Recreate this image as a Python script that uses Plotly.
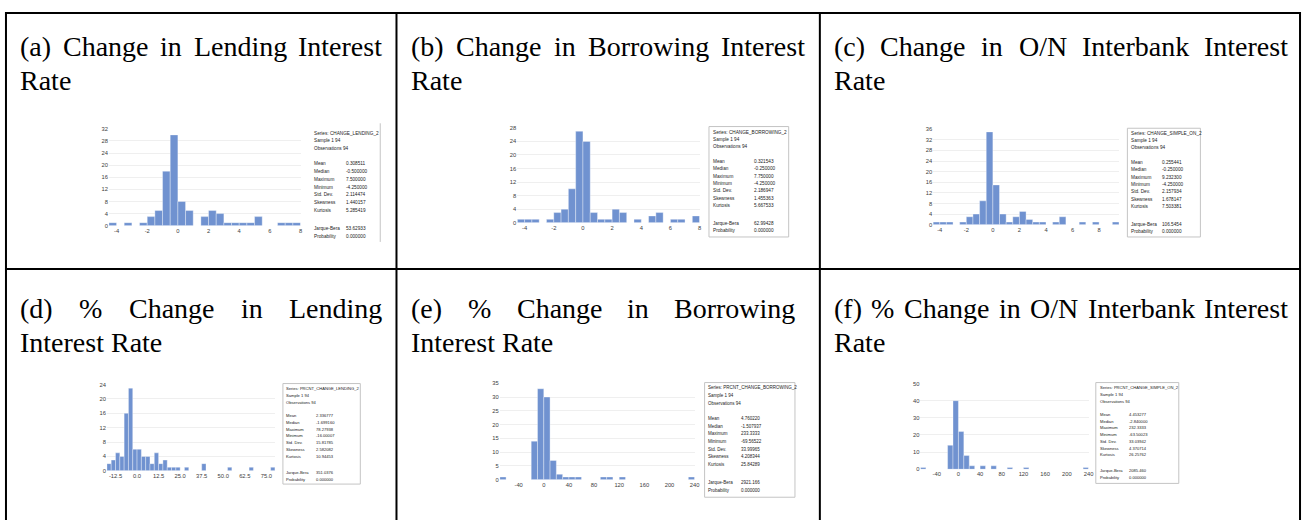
import plotly.graph_objects as go

W, H = 1310, 520

# ---------------- data ----------------
titles = [
    ["(a) Change in Lending Interest", "Rate"],
    ["(b) Change in Borrowing Interest", "Rate"],
    ["(c) Change in O/N Interbank Interest", "Rate"],
    ["(d) % Change in Lending", "Interest Rate"],
    ["(e) % Change in Borrowing", "Interest Rate"],
    ["(f) % Change in O/N Interbank Interest", "Rate"],
]

bin_start_a, bin_width_a = -4.5, 0.5
counts_a = [1, 0, 1, 0, 1, 3, 5, 18, 30, 8, 5, 0, 3, 5, 4, 1, 1, 1, 1, 3, 0, 0, 1, 1, 1]

bin_start_b, bin_width_b = -4.5, 0.5
counts_b = [1, 1, 1, 0, 1, 3, 4, 10, 27, 24, 3, 1, 1, 4, 3, 0, 1, 0, 2, 3, 0, 1, 1, 0, 2]

bin_start_c, bin_width_c = -4.5, 0.5
counts_c = [1, 1, 1, 0, 1, 3, 4, 9, 35, 15, 4, 1, 3, 5, 2, 1, 1, 0, 1, 3, 0, 0, 1, 0, 1, 0, 0, 1]

bin_start_d, bin_width_d = -17.5, 2.5
counts_d = [2, 3, 5, 4, 16, 23, 6, 6, 4, 4, 2, 5, 2, 3, 1, 1, 1, 0, 1, 0, 0, 0, 2, 0, 0,
            0, 0, 0, 1, 0, 0, 0, 0, 1, 0, 0, 0, 0, 1]

bin_start_e, bin_width_e = -70, 10
counts_e = [1, 0, 0, 0, 0, 14, 33, 30, 7, 2, 1, 1, 1, 0, 0, 0, 1, 1, 0, 1,
            0, 0, 0, 0, 0, 0, 0, 0, 0, 0, 1]

bin_start_f, bin_width_f = -70, 10
counts_f = [1, 0, 0, 0, 0, 14, 40, 22, 8, 2, 0, 2, 0, 2, 0, 0, 1, 0, 0, 1,
            0, 0, 0, 0, 0, 0, 0, 0, 0, 0, 1]

yticks_a = [0, 4, 8, 12, 16, 20, 24, 28, 32]
yticks_b = [0, 4, 8, 12, 16, 20, 24, 28]
yticks_c = [0, 4, 8, 12, 16, 20, 24, 28, 32, 36]
yticks_d = [0, 4, 8, 12, 16, 20, 24]
yticks_e = [0, 5, 10, 15, 20, 25, 30, 35]
yticks_f = [0, 10, 20, 30, 40, 50]

xticks_abc = [-4, -2, 0, 2, 4, 6, 8]
xticks_d = [-12.5, 0.0, 12.5, 25.0, 37.5, 50.0, 62.5, 75.0]
xticklabels_d = ["-12.5", "0.0", "12.5", "25.0", "37.5", "50.0", "62.5", "75.0"]
xticks_ef = [-40, 0, 40, 80, 120, 160, 200, 240]

series_names = ["CHANGE_LENDING_2", "CHANGE_BORROWING_2", "CHANGE_SIMPLE_ON_2",
                "PRCNT_CHANGE_LENDING_2", "PRCNT_CHANGE_BORROWING_2", "PRCNT_CHANGE_SIMPLE_ON_2"]
sample_text = "Sample 1 94"
obs_text = "Observations 94"
stat_labels = ["Mean", "Median", "Maximum", "Minimum", "Std. Dev.", "Skewness",
               "Kurtosis", "Jarque-Bera", "Probability"]
stats_a = ["0.308511", "-0.500000", "7.500000", "-4.250000", "2.114474", "1.440157", "5.285419", "53.62933", "0.000000"]
stats_b = ["0.321543", "-0.250000", "7.750000", "-4.250000", "2.186947", "1.455363", "5.667533", "62.99428", "0.000000"]
stats_c = ["0.255441", "-0.250000", "9.232300", "-4.250000", "2.157934", "1.678147", "7.503381", "106.5454", "0.000000"]
stats_d = ["2.336777", "-1.699160", "78.27938", "-16.00007", "15.81785", "2.582082", "10.94453", "351.0376", "0.000000"]
stats_e = ["4.760220", "-1.507937", "233.3333", "-69.56522", "33.99965", "4.208344", "25.84289", "2921.166", "0.000000"]
stats_f = ["4.453277", "-2.840000", "232.3333", "-63.50023", "33.03942", "4.370714", "26.25762", "2085.460", "0.000000"]

# ---------------- layout / styling ----------------
BAR = "#7092d0"
TITLE_FONT = "Times New Roman, Liberation Serif, serif"
SMALL_FONT = "Liberation Sans, Arial, sans-serif"
FS = 28

panels = [
    dict(start=bin_start_a, width=bin_width_a, counts=counts_a, xr=[-4.5, 8.0], xpx=[109.3, 301.7],
         yr=[0, 32], ypx=[225.3, 127.3], yt=yticks_a, xt=xticks_abc, xtl=None,
         stats=stats_a, lx=315, vx=347.7, y0=131.7, step=7.78, fs=4.7, box=None, rline=[381.7, 121.7, 241.7]),
    dict(start=bin_start_b, width=bin_width_b, counts=counts_b, xr=[-4.5, 8.0], xpx=[519.3, 702.3],
         yr=[0, 28], ypx=[222.3, 126.3], yt=yticks_b, xt=xticks_abc, xtl=None,
         stats=stats_b, lx=716, vx=756.7, y0=130.7, step=7.41, fs=4.7, box=[711.7, 125, 791.7, 236.7], rline=None),
    dict(start=bin_start_c, width=bin_width_c, counts=counts_c, xr=[-4.5, 9.5], xpx=[936.7, 1123.3],
         yr=[0, 36], ypx=[224.3, 127.7], yt=yticks_c, xt=xticks_abc, xtl=None,
         stats=stats_c, lx=1135, vx=1166.7, y0=131.7, step=7.41, fs=4.7, box=[1131.7, 126.7, 1205, 236.7], rline=None),
    dict(start=bin_start_d, width=bin_width_d, counts=counts_d, xr=[-17.5, 80], xpx=[107.3, 276],
         yr=[0, 24], ypx=[473.3, 386], yt=yticks_d, xt=xticks_d, xtl=xticklabels_d,
         stats=stats_d, lx=287.3, vx=317.3, y0=390, step=6.84, fs=4.1, box=[284, 385, 361.7, 486.7], rline=None),
    dict(start=bin_start_e, width=bin_width_e, counts=counts_e, xr=[-70, 240], xpx=[501.7, 697.3],
         yr=[0, 35], ypx=[482.3, 384.7], yt=yticks_e, xt=xticks_ef, xtl=None,
         stats=stats_e, lx=710.7, vx=744, y0=389.3, step=7.76, fs=4.5, box=[707.3, 384, 798, 500], rline=None),
    dict(start=bin_start_f, width=bin_width_f, counts=counts_f, xr=[-70, 240], xpx=[924, 1092.7],
         yr=[0, 50], ypx=[471.7, 385], yt=yticks_f, xt=xticks_ef, xtl=None,
         stats=stats_f, lx=1104, vx=1133.3, y0=389.3, step=6.77, fs=4.1, box=[1100, 384, 1183.3, 486], rline=None),
]

title_cells = [
    (20, 383.5, 44.0, 78.5), (413, 808, 44.0, 78.5), (837, 1293.3, 44.0, 78.5),
    (20, 383.5, 309.0, 343.8), (413, 798.3, 309.0, 343.8), (837, 1293.3, 309.0, 343.8),
]

TNR = {' ': 250, '(': 333, ')': 333, '%': 833, '/': 278, 'a': 444, 'b': 500, 'c': 444, 'd': 500,
       'e': 444, 'f': 333, 'g': 500, 'h': 500, 'i': 278, 'k': 500, 'l': 278, 'n': 500, 'o': 500,
       'r': 333, 's': 389, 't': 278, 'w': 722, 'B': 667, 'C': 667, 'I': 333, 'L': 611, 'N': 722,
       'O': 722, 'R': 667}


def tw(s):
    return sum(TNR.get(c, 500) for c in s) * FS / 1000.0


def px(x):
    return x / W


def py(y):
    return 1 - y / H


annotations = []
shapes = []


def add_text(text, x, y, anchor="left", size=FS, family=TITLE_FONT, color="black"):
    annotations.append(dict(text=text, x=px(x), y=py(y), xref="paper", yref="paper",
                            xanchor=anchor, yanchor="middle", showarrow=False,
                            borderpad=0, borderwidth=0,
                            font=dict(family=family, size=size, color=color)))


# titles (justified first line, left-aligned last line)
for (line1, line2), (xs, xe, yl1, yl2) in zip(titles, title_cells):
    words = line1.split(" ")
    widths = [tw(w) for w in words]
    gap = (xe - xs - sum(widths)) / (len(words) - 1)
    x = xs
    for k, (w, wd) in enumerate(zip(words, widths)):
        if k == len(words) - 1:
            add_text(w, xe, yl1, anchor="right")
        else:
            add_text(w, x, yl1)
        x += wd + gap
    add_text(line2, xs, yl2)

fig = go.Figure()
axes = {}
for i, p in enumerate(panels):
    n = i + 1
    xa = "x" if n == 1 else f"x{n}"
    ya = "y" if n == 1 else f"y{n}"
    cnt = p["counts"]
    xs_c = [p["start"] + p["width"] * (k + 0.5) for k in range(len(cnt))]
    fig.add_trace(go.Bar(x=xs_c, y=cnt, width=[p["width"]] * len(cnt), xaxis=xa, yaxis=ya,
                         marker=dict(color=BAR, line=dict(color="rgba(255,255,255,0.7)", width=0.5)),
                         hoverinfo="skip", showlegend=False))
    tick_font = dict(family=SMALL_FONT, size=5.8, color="#404040")
    axes["xaxis" if n == 1 else f"xaxis{n}"] = dict(
        domain=[px(p["xpx"][0]), px(p["xpx"][1])], range=p["xr"], anchor=ya,
        tickvals=p["xt"], ticktext=p["xtl"] if p["xtl"] else [str(v) for v in p["xt"]],
        showgrid=False, zeroline=False, showline=False, ticks="", tickfont=tick_font, fixedrange=True)
    axes["yaxis" if n == 1 else f"yaxis{n}"] = dict(
        domain=[py(p["ypx"][0]), py(p["ypx"][1])], range=p["yr"], anchor=xa,
        tickvals=p["yt"], showgrid=True, gridcolor="#efefef", gridwidth=0.6,
        zeroline=False, showline=False, ticks="", tickfont=tick_font, fixedrange=True)

    # statistics box
    fs = p["fs"]
    col = "#222222"
    y0, st = p["y0"], p["step"]
    add_text("Series: " + series_names[i], p["lx"], y0, size=fs, family=SMALL_FONT, color=col)
    add_text(sample_text, p["lx"], y0 + st, size=fs, family=SMALL_FONT, color=col)
    add_text(obs_text, p["lx"], y0 + 2 * st, size=fs, family=SMALL_FONT, color=col)
    rows = [4, 5, 6, 7, 8, 9, 10, 12.4, 13.4]
    for lab, val, r in zip(stat_labels, p["stats"], rows):
        add_text(lab, p["lx"], y0 + r * st, size=fs, family=SMALL_FONT, color=col)
        add_text(val, p["vx"], y0 + r * st, size=fs, family=SMALL_FONT, color=col)
    if p["box"]:
        bx0, by0, bx1, by1 = p["box"]
        shapes.append(dict(type="rect", xref="paper", yref="paper", x0=px(bx0), x1=px(bx1),
                           y0=py(by1), y1=py(by0), line=dict(color="#c4c4c4", width=1)))
    if p["rline"]:
        lx_, ly0, ly1 = p["rline"]
        shapes.append(dict(type="line", xref="paper", yref="paper", x0=px(lx_), x1=px(lx_),
                           y0=py(ly1), y1=py(ly0), line=dict(color="#c4c4c4", width=1)))

# table grid lines
def hline(y, x0, x1):
    shapes.append(dict(type="line", xref="paper", yref="paper", x0=px(x0), x1=px(x1),
                       y0=py(y), y1=py(y), line=dict(color="black", width=2)))


def vline(x, y0, y1):
    shapes.append(dict(type="line", xref="paper", yref="paper", x0=px(x), x1=px(x),
                       y0=py(y0), y1=py(y1), line=dict(color="black", width=2)))


hline(10, 5, 1306)
hline(269, 5, 1306)
vline(6, 9, 525)
vline(1305, 9, 525)
vline(398, 9, 525)
vline(823, 9, 525)

fig.update_layout(width=W, height=H, margin=dict(l=0, r=0, t=0, b=0),
                  paper_bgcolor="white", plot_bgcolor="white",
                  annotations=annotations, shapes=shapes, barmode="overlay", **axes)

fig.write_html("out.html", config={"displayModeBar": False},
               post_script="document.body.style.margin='0';document.body.style.overflow='hidden';")
